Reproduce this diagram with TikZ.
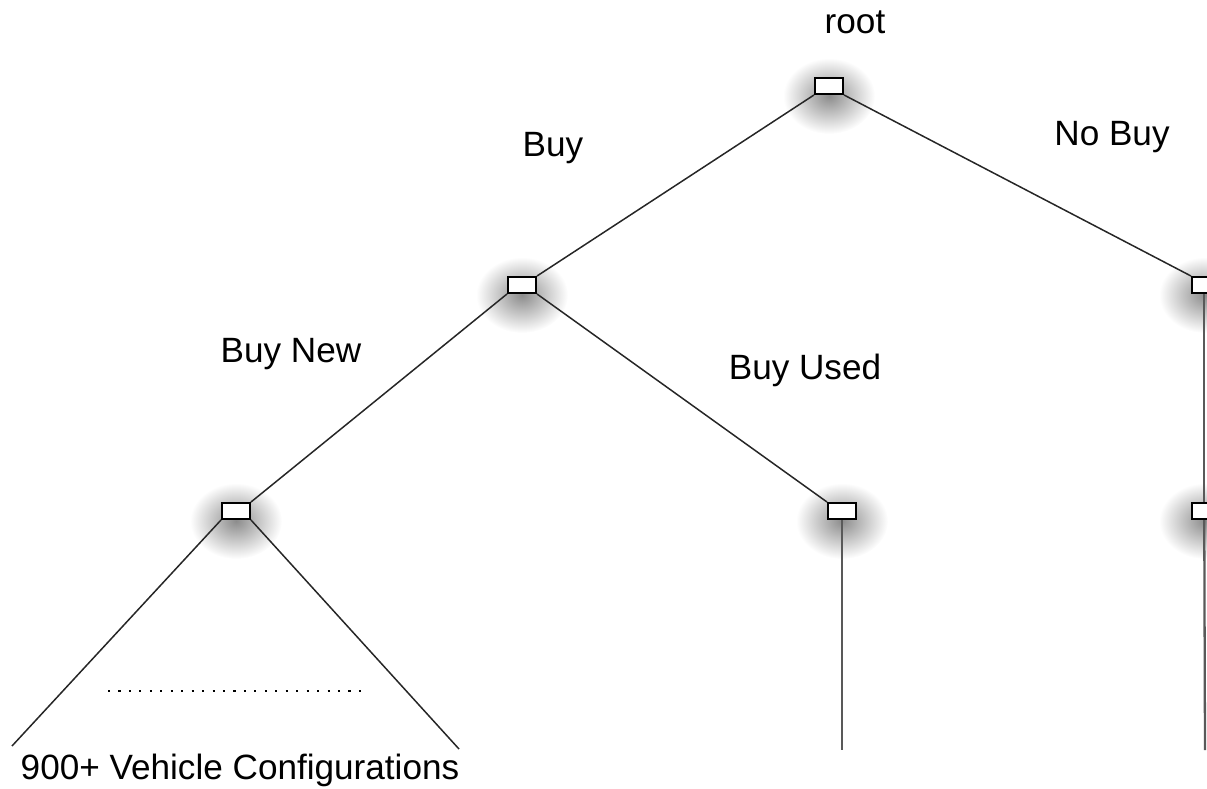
\documentclass[tikz,border=0pt]{standalone}
\usepackage{fontspec}
\setmainfont{Liberation Sans}

\tikzset{
  choice/.style={draw, line width=1.1pt, fill=white, minimum width=0.56cm, minimum height=0.32cm, inner sep=0pt},
  branch/.style={line width=0.85pt, black!85},
  trunk/.style={line width=1.3pt, black!65},
  blob/.style={inner color=black!45, outer color=white},
  lbl/.style={font=\fontsize{20}{24}\selectfont, inner sep=0pt}
}

\begin{document}
\begin{tikzpicture}[x=0.02cm, y=-0.02cm]
    \useasboundingbox (0,0) rectangle (1207,788);

    % soft shadows under the decision boxes
    \foreach \px/\py in {829/96, 522/295, 1205/295, 236/521, 842/521, 1205/521}
      \shade[blob] (\px,\py) ellipse (46 and 38);

    \node[choice] (root) at (829,86) {};
    \node[choice] (buy) at (522,285) {};
    \node[choice] (nobuy) at (1206,285) {};
    \node[choice] (new) at (236,511) {};
    \node[choice] (used) at (842,511) {};
    \node[choice] (keep) at (1206,511) {};

    % free ends of the leaves
    \coordinate (leafl) at (12,746);
    \coordinate (leafr) at (459,749);
    \coordinate (usedend) at (842,750);
    \coordinate (keepend) at (1205,750);
    \coordinate (dotsl) at (108,691);
    \coordinate (dotsr) at (362,691);

    \draw[branch] (root.south west) -- (buy.north east);
    \draw[branch] (root.south east) -- (nobuy.north west);
    \draw[branch] (buy.south west) -- (new.north east);
    \draw[branch] (buy.south east) -- (used.north west);
    \draw[branch] (new.south west) -- (leafl);
    \draw[branch] (new.south east) -- (leafr);
    \draw[trunk] (used.south) -- (usedend);
    \draw[trunk] ([xshift=-1pt]nobuy.south) -- ([xshift=-1pt]keep.north);
    \draw[trunk] ([xshift=-1pt]keep.south) -- (keepend);
    \draw[line width=0.9pt, dash pattern=on 1.2pt off 4.75pt] (dotsl) -- (dotsr);

    % redraw boxes on top of the lines
    \foreach \n in {root, buy, nobuy, new, used, keep}
      \node[choice] at (\n) {};

    \node[lbl] (rootlbl) at (855,22) {root};
    \node[lbl] (buylbl) at (553,148) {Buy};
    \node[lbl] (nobuylbl) at (1112,137) {No Buy};
    \node[lbl] (newlbl) at (291,354) {Buy New};
    \node[lbl] (usedlbl) at (805,370) {Buy Used};
    \node[lbl] (leaflbl) at (240,770) {900+ Vehicle Configurations};

\end{tikzpicture}
\end{document}
